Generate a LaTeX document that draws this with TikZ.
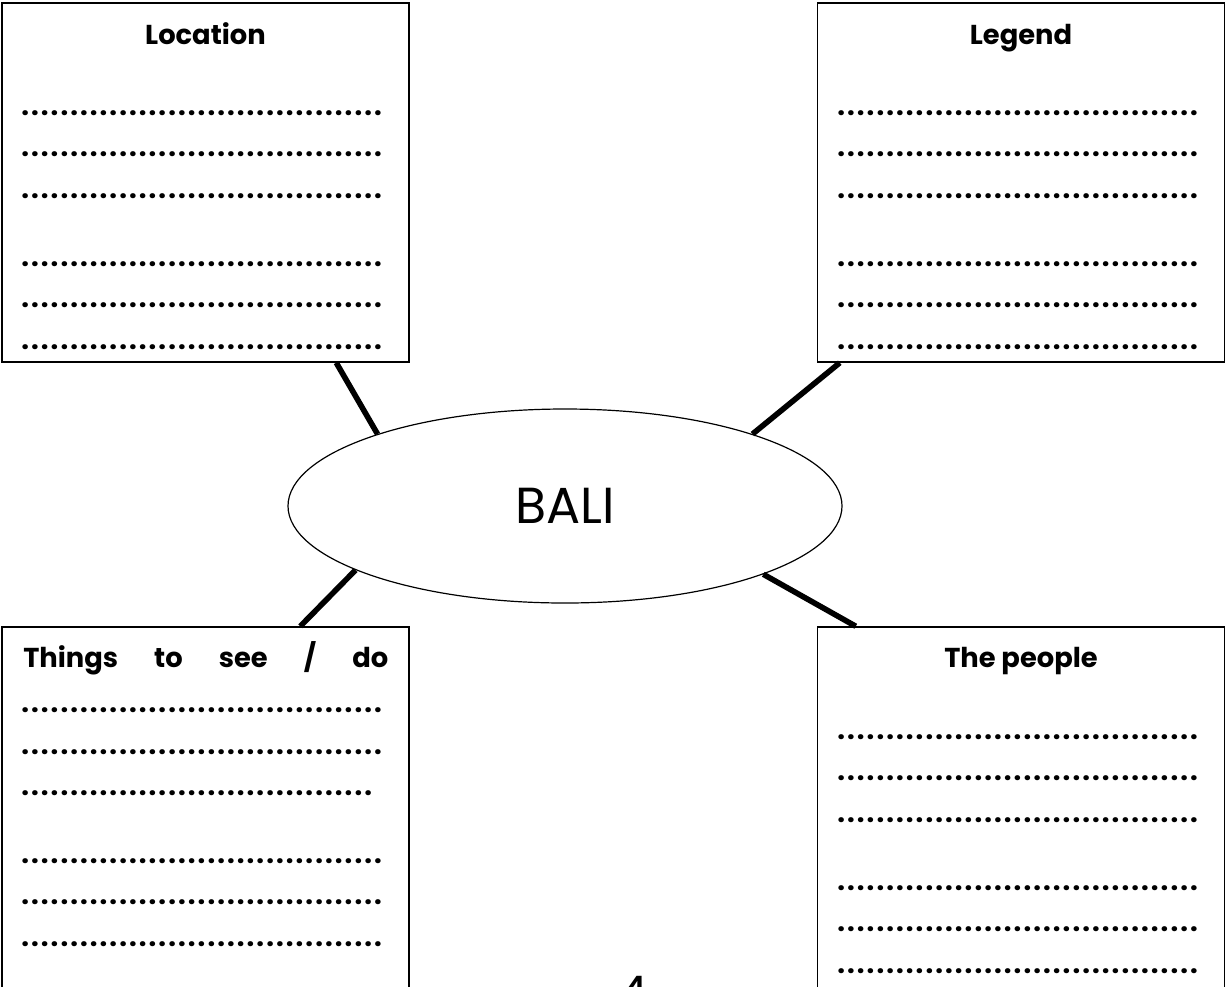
\documentclass[tikz,border=0pt]{standalone}
\usepackage{fontspec}
\setmainfont{Poppins}
\usetikzlibrary{shapes.geometric,calc}
\newdimen\dotpitch \dotpitch=7.35pt
\newcommand\dotrow[1]{\hbox to #1\dotpitch{\xleaders\hbox to \dotpitch{\hss.\hss}\hfill}}
\begin{document}
\begin{tikzpicture}[x=0.75pt,y=-0.75pt,
  box/.style={draw,line width=1.1pt,rectangle,minimum width=305.25pt,inner sep=0pt},
  topbox/.style={box,minimum height=269.25pt},
  lowbox/.style={box,minimum height=300pt},
  title/.style={font=\fontsize{20.5}{24}\selectfont\bfseries,inner sep=0pt,anchor=base},
  dots/.style={font=\fontsize{20.5}{24}\selectfont\bfseries,inner sep=0pt,anchor=base west},
  link/.style={line width=4.2pt},
  hub/.style={ellipse,draw,line width=0.9pt,minimum width=415.5pt,minimum height=145.5pt,inner sep=0pt,font=\fontsize{38}{44}\selectfont}]
\clip (0,0) rectangle (1226,986);
% boxes
\node[topbox] (tl) at (205.5,182.5) {};
\node[topbox] (tr) at (1021,182.5) {};
\node[lowbox] (bl) at (205.5,827) {};
\node[lowbox] (br) at (1021,827) {};
% centre
\node[hub] (hub) at (565,506) {BALI};
% connectors
\draw[link] ($(tl.south west)+(335,0)$) -- (hub.159.2);
\draw[link] ($(tr.south west)+(23,0)$) -- (hub.21.1);
\draw[link] ($(bl.north west)+(299,0)$) -- (hub.197.6);
\draw[link] ($(br.north west)+(39,0)$) -- (hub.341.8);
% titles
\node[title] (tlt) at (205.5,44) {Location};
\node[title] (trt) at (1021,44) {Legend};
\node[title] (brt) at (1021,667) {The people};
\node[dots] (blt) at (23,667) {\hbox to 273.75pt{Things\hfill to\hfill see\hfill /\hfill do}};
% dotted lines, top left
\node[dots] (tl1) at (20,115) {\dotrow{37}};
\node[dots] (tl2) at (20,156) {\dotrow{37}};
\node[dots] (tl3) at (20,198) {\dotrow{37}};
\node[dots] (tl4) at (20,266) {\dotrow{37}};
\node[dots] (tl5) at (20,307) {\dotrow{37}};
\node[dots] (tl6) at (20,349) {\dotrow{37}};
% top right
\node[dots] (tr1) at (836,115) {\dotrow{37}};
\node[dots] (tr2) at (836,156) {\dotrow{37}};
\node[dots] (tr3) at (836,198) {\dotrow{37}};
\node[dots] (tr4) at (836,266) {\dotrow{37}};
\node[dots] (tr5) at (836,307) {\dotrow{37}};
\node[dots] (tr6) at (836,349) {\dotrow{37}};
% bottom left
\node[dots] (bl1) at (20,712) {\dotrow{37}};
\node[dots] (bl2) at (20,754) {\dotrow{37}};
\node[dots] (bl3) at (20,795) {\dotrow{36}};
\node[dots] (bl4) at (20,863) {\dotrow{37}};
\node[dots] (bl5) at (20,904) {\dotrow{37}};
\node[dots] (bl6) at (20,946) {\dotrow{37}};
% bottom right
\node[dots] (br1) at (836,739) {\dotrow{37}};
\node[dots] (br2) at (836,780) {\dotrow{37}};
\node[dots] (br3) at (836,822) {\dotrow{37}};
\node[dots] (br4) at (836,890) {\dotrow{37}};
\node[dots] (br5) at (836,931) {\dotrow{37}};
\node[dots] (br6) at (836,973) {\dotrow{37}};
% page number
\node[font=\fontsize{20}{24}\selectfont\bfseries,anchor=north,inner sep=0pt] (pg) at (636,976) {4};
\end{tikzpicture}
\end{document}
